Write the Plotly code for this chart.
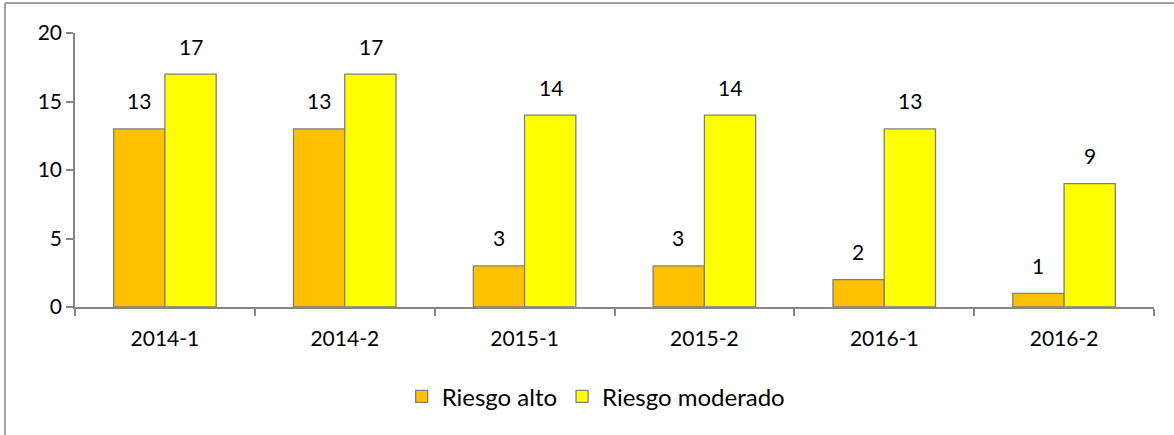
import plotly.graph_objects as go

categories = ["2014-1", "2014-2", "2015-1", "2015-2", "2016-1", "2016-2"]
riesgo_alto = [13, 13, 3, 3, 2, 1]
riesgo_moderado = [17, 17, 14, 14, 13, 9]

FONT = "Lato, Calibri, Carlito, sans-serif"
GRAY = "#868686"
FS = 21

fig = go.Figure()
fig.add_trace(go.Bar(name="Riesgo alto", x=categories, y=riesgo_alto,
                     marker=dict(color="#FFC000", line=dict(color="#7f7f7f", width=1.3))))
fig.add_trace(go.Bar(name="Riesgo moderado", x=categories, y=riesgo_moderado,
                     marker=dict(color="#FFFF00", line=dict(color="#7f7f7f", width=1.3))))

for series, shift in ((riesgo_alto, -26), (riesgo_moderado, 26)):
    for c, v in zip(categories, series):
        fig.add_annotation(x=c, y=v, xref="x", yref="y", text=str(v), showarrow=False,
                           xshift=shift, yshift=28, yanchor="middle",
                           font=dict(family=FONT, size=FS, color="#000"))

# outer chart border (top and left visible)
fig.add_shape(type="line", xref="paper", yref="paper",
              x0=(5 - 75) / 1079, x1=1.2, y0=(307 - 3) / 274, y1=(307 - 3) / 274,
              line=dict(color=GRAY, width=1.5))
fig.add_shape(type="line", xref="paper", yref="paper",
              x0=(5 - 75) / 1079, x1=(5 - 75) / 1079, y0=(307 - 3) / 274, y1=-1,
              line=dict(color=GRAY, width=1.5))

fig.update_layout(
    width=1174, height=435,
    margin=dict(l=75, r=20, t=33, b=128),
    paper_bgcolor="white", plot_bgcolor="white",
    barmode="group", bargap=0.43, bargroupgap=0,
    font=dict(family=FONT, size=FS, color="#000"),
    showlegend=True,
    legend=dict(orientation="h", x=0.483, xanchor="center", y=-0.328, yanchor="middle",
                font=dict(family=FONT, size=24), itemwidth=30,
                traceorder="normal"),
    xaxis=dict(type="category", showline=True, linecolor=GRAY, linewidth=1.5, ticks="outside",
               tickson="boundaries", ticklen=7, tickcolor=GRAY, tickwidth=1.5,
               ticklabelstandoff=12,
               showgrid=False, tickfont=dict(family=FONT, size=FS)),
    yaxis=dict(range=[0, 20], dtick=5, showline=True, linecolor=GRAY, linewidth=1.5,
               ticks="outside", ticklen=7, tickcolor=GRAY, tickwidth=1.5,
               showgrid=False, zeroline=False, tickfont=dict(family=FONT, size=FS)),
)

fig.write_html("out.html", config={"displayModeBar": False},
               post_script="document.body.style.margin='0';")
